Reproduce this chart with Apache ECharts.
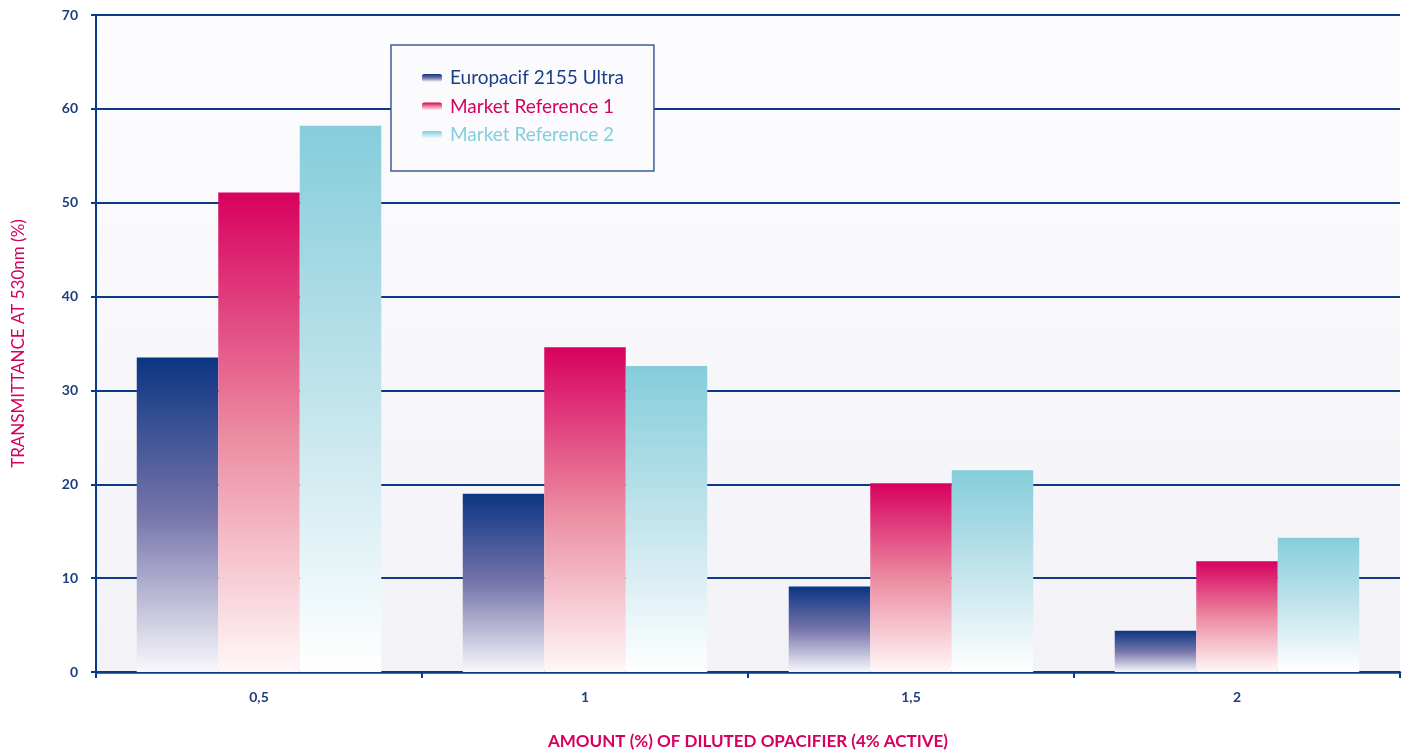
<!DOCTYPE html>
<html>
<head>
<meta charset="utf-8">
<script src="https://cdn.jsdelivr.net/npm/echarts@6/dist/echarts.min.js"></script>
<style>
html,body{margin:0;padding:0;background:#fff;}
#chart{width:1402px;height:751px;}
</style>
</head>
<body>
<div id="chart"></div>
<script>
const categories = ['0,5', '1', '1,5', '2'];
const europacif = [33.5, 19.0, 9.1, 4.4];
const marketRef1 = [51.1, 34.6, 20.1, 11.8];
const marketRef2 = [58.2, 32.6, 21.5, 14.3];
const seriesNames = ['Europacif 2155 Ultra', 'Market Reference 1', 'Market Reference 2'];
const yTicks = { min: 0, max: 70, interval: 10 };

const NAVY = '#0b3b86';
const PINK = '#d6005f';
const CYAN = '#85cddb';
const FONT = 'Lato';

function grad(stops) {
  return new echarts.graphic.LinearGradient(0, 0, 0, 1,
    stops.map((c, i) => ({ offset: i / (stops.length - 1), color: c })));
}

const chart = echarts.init(document.getElementById('chart'));
chart.setOption({
  animation: false,
  textStyle: { fontFamily: FONT },
  grid: {
    left: 96, right: 2, top: 15, bottom: 79,
    containLabel: false,
    outerBoundsMode: 'none',
    show: true, borderWidth: 0,
    backgroundColor: grad(['#fdfdff', '#f2f2f7'])
  },
  legend: {
    orient: 'vertical',
    left: 391, top: 45,
    padding: [23.5, 30, 26.5, 31],
    itemGap: 9.5,
    itemWidth: 20, itemHeight: 8,
    backgroundColor: '#fbfbfe',
    borderColor: '#3d5d9c', borderWidth: 1.5,
    textStyle: { fontSize: 19, fontFamily: FONT, fontWeight: 'normal', lineHeight: 19, padding: [0, 0, 0, 3] },
    data: [
      { name: seriesNames[0], textStyle: { color: '#1b3e84' } },
      { name: seriesNames[1], textStyle: { color: PINK } },
      { name: seriesNames[2], textStyle: { color: CYAN } }
    ]
  },
  xAxis: {
    type: 'category',
    data: categories,
    boundaryGap: true,
    name: 'AMOUNT (%) OF DILUTED OPACIFIER (4% ACTIVE)',
    nameLocation: 'middle',
    nameGap: 61,
    nameTextStyle: { color: PINK, fontSize: 17, fontWeight: 'bold', fontFamily: FONT },
    axisLine: { lineStyle: { color: NAVY, width: 2.5 } },
    axisTick: { show: true, length: 6, lineStyle: { color: NAVY, width: 2 } },
    axisLabel: { color: '#1c3f7e', fontWeight: 'bold', fontSize: 14, margin: 18 },
    splitLine: { show: false }
  },
  yAxis: {
    type: 'value',
    min: yTicks.min, max: yTicks.max, interval: yTicks.interval,
    name: 'TRANSMITTANCE AT 530nm (%)',
    nameLocation: 'middle',
    nameRotate: 90,
    nameGap: 69,
    nameTextStyle: { color: PINK, fontSize: 17, fontWeight: 'normal', fontFamily: FONT },
    axisLine: { show: true, lineStyle: { color: NAVY, width: 2 } },
    axisTick: { show: true, length: 5, lineStyle: { color: NAVY, width: 2 } },
    axisLabel: { color: '#1c3f7e', fontWeight: 'bold', fontSize: 14, margin: 18 },
    splitLine: { show: true, lineStyle: { color: NAVY, width: 2 } }
  },
  series: [
    {
      name: seriesNames[0], type: 'bar', data: europacif,
      barGap: '0%', barCategoryGap: '25%',
      itemStyle: { color: grad(['#0b3583', '#7674aa', '#f8f8fc']) }
    },
    {
      name: seriesNames[1], type: 'bar', data: marketRef1,
      barGap: '0%', barCategoryGap: '25%',
      itemStyle: { color: grad(['#d8005f', '#eb8aa1', '#fff8f8']) }
    },
    {
      name: seriesNames[2], type: 'bar', data: marketRef2,
      barGap: '0%', barCategoryGap: '25%',
      itemStyle: { color: grad(['#85cddb', '#c2e4ec', '#ffffff']) }
    }
  ]
});
</script>
</body>
</html>
